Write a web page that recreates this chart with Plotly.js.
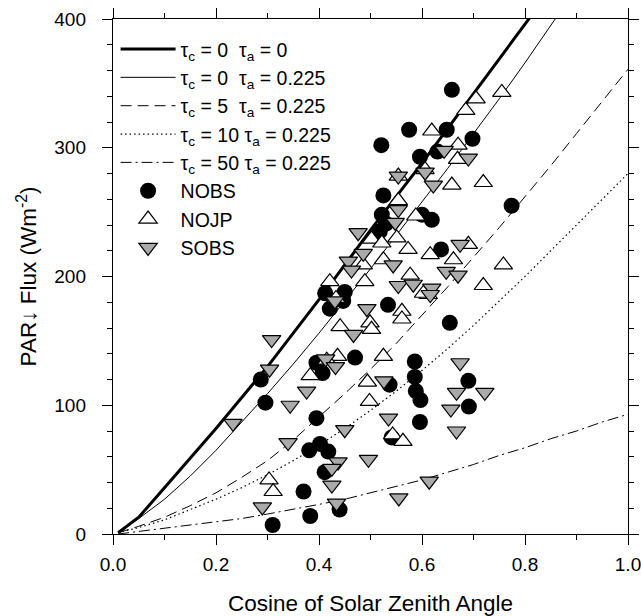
<!DOCTYPE html>
<html>
<head>
<meta charset="utf-8">
<script src="https://cdn.plot.ly/plotly-3.0.1.min.js"></script>
<style>body{margin:0;background:#fff}#chart{width:641px;height:616px}</style>
</head>
<body>
<div id="chart"></div>
<script>
// Model curves (cosine of solar zenith angle vs PAR flux)
const curveX = [0.01,0.05,0.10,0.15,0.20,0.25,0.30,0.35,0.40,0.45,0.50,0.55,0.60,0.65,0.70,0.75,0.80,0.85,0.90,0.95,1.00];
const clearNoAerosol = [1,13,36,59,82,106,130,156,182,209,236,262,288,315,342,369,396,423];
const clearAerosol   = [1,12,27,45,65,87,109,132,156,181,206,232,258,284,311,338,366,395,424];
const cloud5         = [1,6,13,22,32,44,57,73,91,109,128,148,170,192,215,238,262,286,311,336,361];
const cloud10        = [1,5,11,19,27,36,46,57,69,82,96,111,127,144,162,181,200,220,240,260,280];
const cloud50        = [0,2,4,6.5,9,12,15.5,19,23,27,32,37,42,48,54,61,67,74,80,87,93];

// Observations
const nobsX = [0.658,0.575,0.648,0.521,0.698,0.596,0.630,0.525,0.522,0.518,0.530,0.619,0.600,0.637,0.774,0.534,0.412,0.450,0.447,0.421,0.470,0.395,0.407,0.287,0.296,0.395,0.381,0.402,0.418,0.411,0.370,0.440,0.383,0.310,0.586,0.586,0.588,0.597,0.596,0.537,0.541,0.654,0.690,0.691];
const nobsY = [345,314,314,302,307,293,297,263,248,235,241,244,248,221,255,178,187,188,181,175,137,133,125,120,102,90,65,70,64,48,33,19,14,7,134,122,111,104,87,116,75,164,119,99];

const nojpX = [0.755,0.705,0.685,0.619,0.670,0.669,0.658,0.719,0.606,0.554,0.554,0.588,0.551,0.573,0.616,0.661,0.690,0.758,0.577,0.525,0.502,0.522,0.489,0.486,0.421,0.433,0.612,0.603,0.719,0.561,0.561,0.499,0.441,0.502,0.436,0.525,0.494,0.498,0.383,0.415,0.543,0.563,0.303,0.311];
const nojpY = [343,338,329,313,302,291,271,273,283,278,259,247,230,221,217,213,225,209,201,213,229,226,196,209,196,183,186,187,193,173,167,164,161,159,138,138,118,103,123,135,77,72,42,33];

const sobsX = [0.554,0.643,0.690,0.606,0.622,0.554,0.548,0.674,0.647,0.670,0.544,0.476,0.486,0.457,0.463,0.431,0.554,0.583,0.619,0.616,0.493,0.467,0.308,0.304,0.413,0.432,0.376,0.344,0.233,0.450,0.340,0.496,0.437,0.425,0.425,0.290,0.434,0.526,0.535,0.674,0.667,0.722,0.656,0.667,0.614,0.555];
const sobsY = [278,298,292,281,271,252,242,225,204,201,209,234,218,212,205,181,193,194,191,186,175,155,151,128,136,130,111,100,86,81,71,58,56,51,38,21,24,119,90,133,110,110,97,80,41,28];

const xTickVals = [0,0.2,0.4,0.6,0.8,1.0];
const xTickText = ['0.0','0.2','0.4','0.6','0.8','1.0'];
const yTickVals = [0,100,200,300,400];

const labels = [
  'τ<sub>c</sub> = 0  τ<sub>a</sub> = 0',
  'τ<sub>c</sub> = 0  τ<sub>a</sub> = 0.225',
  'τ<sub>c</sub> = 5  τ<sub>a</sub> = 0.225',
  'τ<sub>c</sub> = 10 τ<sub>a</sub> = 0.225',
  'τ<sub>c</sub> = 50 τ<sub>a</sub> = 0.225',
  'NOBS','NOJP','SOBS'
];

function lineTrace(ys, name, width, dash){
  return {x: curveX.slice(0, ys.length), y: ys, mode:'lines', name:name,
    line:{color:'#000', width:width, dash:dash}, hoverinfo:'skip'};
}

const traces = [
  lineTrace(clearNoAerosol, labels[0], 3, 'solid'),
  lineTrace(clearAerosol, labels[1], 1, 'solid'),
  lineTrace(cloud5, labels[2], 1, '11px,6px'),
  lineTrace(cloud10, labels[3], 1.2, '1.5px,3px'),
  lineTrace(cloud50, labels[4], 1, '11px,4px,2px,4px'),
  {x:nobsX, y:nobsY, mode:'markers', name:labels[5],
   marker:{symbol:'circle', size:16, color:'#000', line:{color:'#000', width:0}}},
  {x:nojpX, y:nojpY, mode:'markers', name:labels[6],
   marker:{symbol:'triangle-up', size:16, color:'#fff', line:{color:'#000', width:1.2}}},
  {x:sobsX, y:sobsY, mode:'markers', name:labels[7],
   marker:{symbol:'triangle-down', size:16, color:'#aaaaaa', line:{color:'#000', width:1.2}}}
];

const axisCommon = {
  showline:true, linecolor:'#000', linewidth:1.2, mirror:'allticks',
  ticks:'outside', ticklen:10, tickwidth:1, tickcolor:'#000',
  showgrid:false, zeroline:false, ticklabeloverflow:'allow',
  tickfont:{family:'Liberation Sans, Arial, sans-serif', size:19, color:'#000'}
};

const layout = {
  width:641, height:616,
  margin:{l:113, r:13, t:19, b:82},
  paper_bgcolor:'#fff', plot_bgcolor:'#fff',
  font:{family:'Liberation Sans, Arial, sans-serif', color:'#000', size:19},
  showlegend:true,
  legend:{x:0.005, y:0.979, xanchor:'left', yanchor:'top', bgcolor:'rgba(0,0,0,0)',
          borderwidth:0, font:{size:19.5}, itemwidth:55, tracegroupgap:0},
  xaxis:Object.assign({}, axisCommon, {
    range:[0,1], tickvals:xTickVals, ticktext:xTickText, ticklabelstandoff:3,
    minor:{dtick:0.1, ticklen:5, ticks:'outside', tickcolor:'#000'},
    title:{text:'Cosine of Solar Zenith Angle', font:{size:22.5}, standoff:24}
  }),
  yaxis:Object.assign({}, axisCommon, {
    range:[0,400], tickvals:yTickVals, ticklabelstandoff:12,
    minor:{dtick:20, ticklen:5, ticks:'outside', tickcolor:'#000'},
    title:{text:'PAR↓ Flux (Wm<sup>-2</sup>)', font:{size:22.5}, standoff:11}
  })
};

Plotly.newPlot('chart', traces, layout, {displayModeBar:false, staticPlot:true});
</script>
</body>
</html>
